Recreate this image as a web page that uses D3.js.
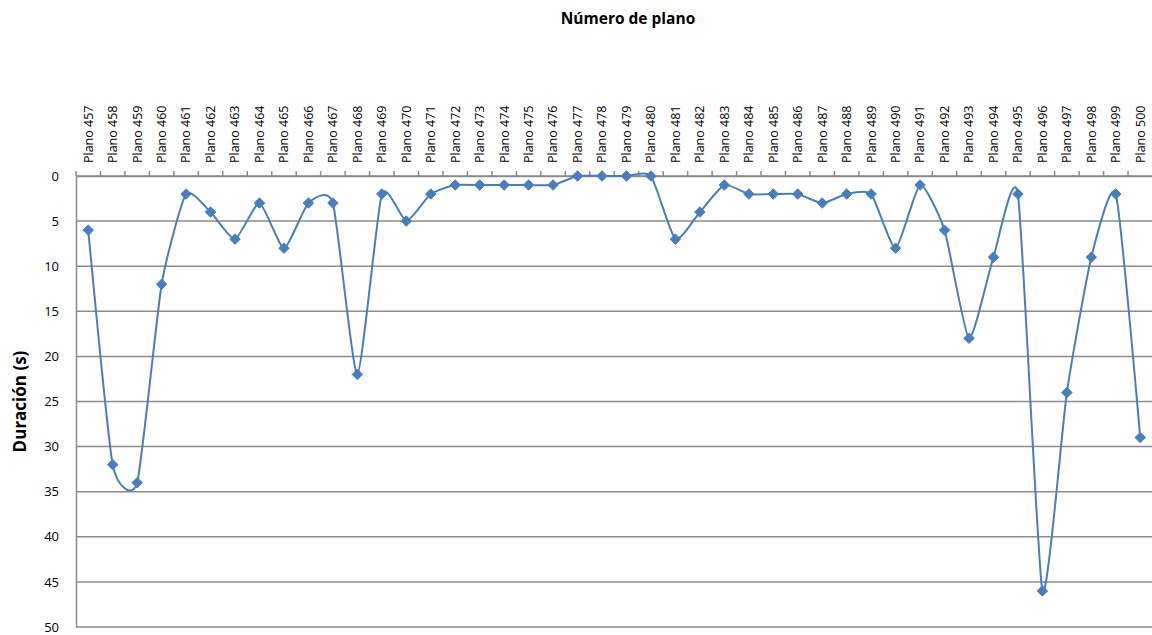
<!DOCTYPE html>
<html>
<head>
<meta charset="utf-8">
<script src="https://cdn.jsdelivr.net/npm/d3@7"></script>
<style>
  html, body { margin: 0; padding: 0; background: #fff; }
  svg { display: block; font-family: "Open Sans", sans-serif; }
</style>
</head>
<body>
<svg id="chart" width="1152" height="635"></svg>
<script>
// Shot numbers and their durations in seconds
const planos = d3.range(457, 501).map(n => "Plano " + n);
const duraciones = [6, 32, 34, 12, 2, 4, 7, 3, 8, 3, 3, 22, 2, 5, 2, 1, 1, 1, 1, 1,
                    0, 0, 0, 0, 7, 4, 1, 2, 2, 2, 3, 2, 2, 8, 1, 6, 18, 9, 2, 46,
                    24, 9, 2, 29];
const yTicks = [0, 5, 10, 15, 20, 25, 30, 35, 40, 45, 50];

const svg = d3.select("#chart");
const margin = { left: 76, right: 0, top: 176, bottom: 8 };
const W = 1152, H = 635;
const FONT = "'Open Sans', sans-serif";

const x = d3.scaleBand().domain(planos).range([margin.left, 1152.5]).padding(0);
const y = d3.scaleLinear().domain([0, 50]).range([margin.top, H - margin.bottom]);

const gridColor = "#8c8c8c";

// horizontal gridlines
svg.append("g")
  .selectAll("line")
  .data(yTicks)
  .join("line")
  .attr("x1", margin.left).attr("x2", W)
  .attr("y1", d => y(d)).attr("y2", d => y(d))
  .attr("stroke", gridColor).attr("stroke-width", 1.5);

// left axis line and labels
const yAxis = d3.axisLeft(y).tickValues(yTicks).tickSize(0).tickPadding(17);
const gy = svg.append("g").attr("transform", `translate(${margin.left},0)`).call(yAxis);
gy.select(".domain").attr("stroke", gridColor).attr("stroke-width", 1.5);
gy.selectAll("text").attr("font-size", 13).attr("fill", "#000")
  .attr("font-family", FONT);

// top category axis with boundary ticks
const gx = svg.append("g").attr("transform", `translate(0,${margin.top})`)
  .call(d3.axisTop(x).tickSize(0).tickPadding(0));
gx.select(".domain").attr("stroke", gridColor).attr("stroke-width", 1.5);
gx.selectAll(".tick text")
  .attr("transform", "rotate(-90)")
  .attr("text-anchor", "start")
  .attr("x", 13).attr("y", 0).attr("dy", "0.35em")
  .attr("font-size", 12.5).attr("fill", "#000")
  .attr("font-family", FONT);
svg.append("g")
  .selectAll("line")
  .data(planos)
  .join("line")
  .attr("x1", d => x(d)).attr("x2", d => x(d))
  .attr("y1", margin.top).attr("y2", margin.top - 5)
  .attr("stroke", gridColor).attr("stroke-width", 1.5);

// smoothed series line
const line = d3.line()
  .x((d, i) => x(planos[i]) + x.bandwidth() / 2)
  .y(d => y(d))
  .curve(d3.curveCardinal.tension(0.45));
svg.append("path")
  .datum(duraciones)
  .attr("d", line)
  .attr("fill", "none")
  .attr("stroke", "#4a7ebb")
  .attr("stroke-width", 2);

// diamond markers
const diamond = d3.symbol().type(d3.symbolDiamond2).size(70);
svg.append("g")
  .selectAll("path")
  .data(duraciones)
  .join("path")
  .attr("d", diamond)
  .attr("transform", (d, i) => `translate(${x(planos[i]) + x.bandwidth() / 2},${y(d)})`)
  .attr("fill", "#4a7ebb")
  .attr("stroke", "#4a7ebb")
  .attr("stroke-width", 1);

// titles
svg.append("text")
  .attr("x", 628).attr("y", 24)
  .attr("text-anchor", "middle")
  .attr("font-size", 15.5).attr("font-weight", "bold")
  .attr("font-family", FONT)
  .text("Número de plano");
svg.append("text")
  .attr("transform", `translate(26,${(y(0) + y(50)) / 2}) rotate(-90)`)
  .attr("text-anchor", "middle")
  .attr("font-size", 17).attr("font-weight", "bold")
  .attr("font-family", FONT)
  .text("Duración (s)");
</script>
</body>
</html>
